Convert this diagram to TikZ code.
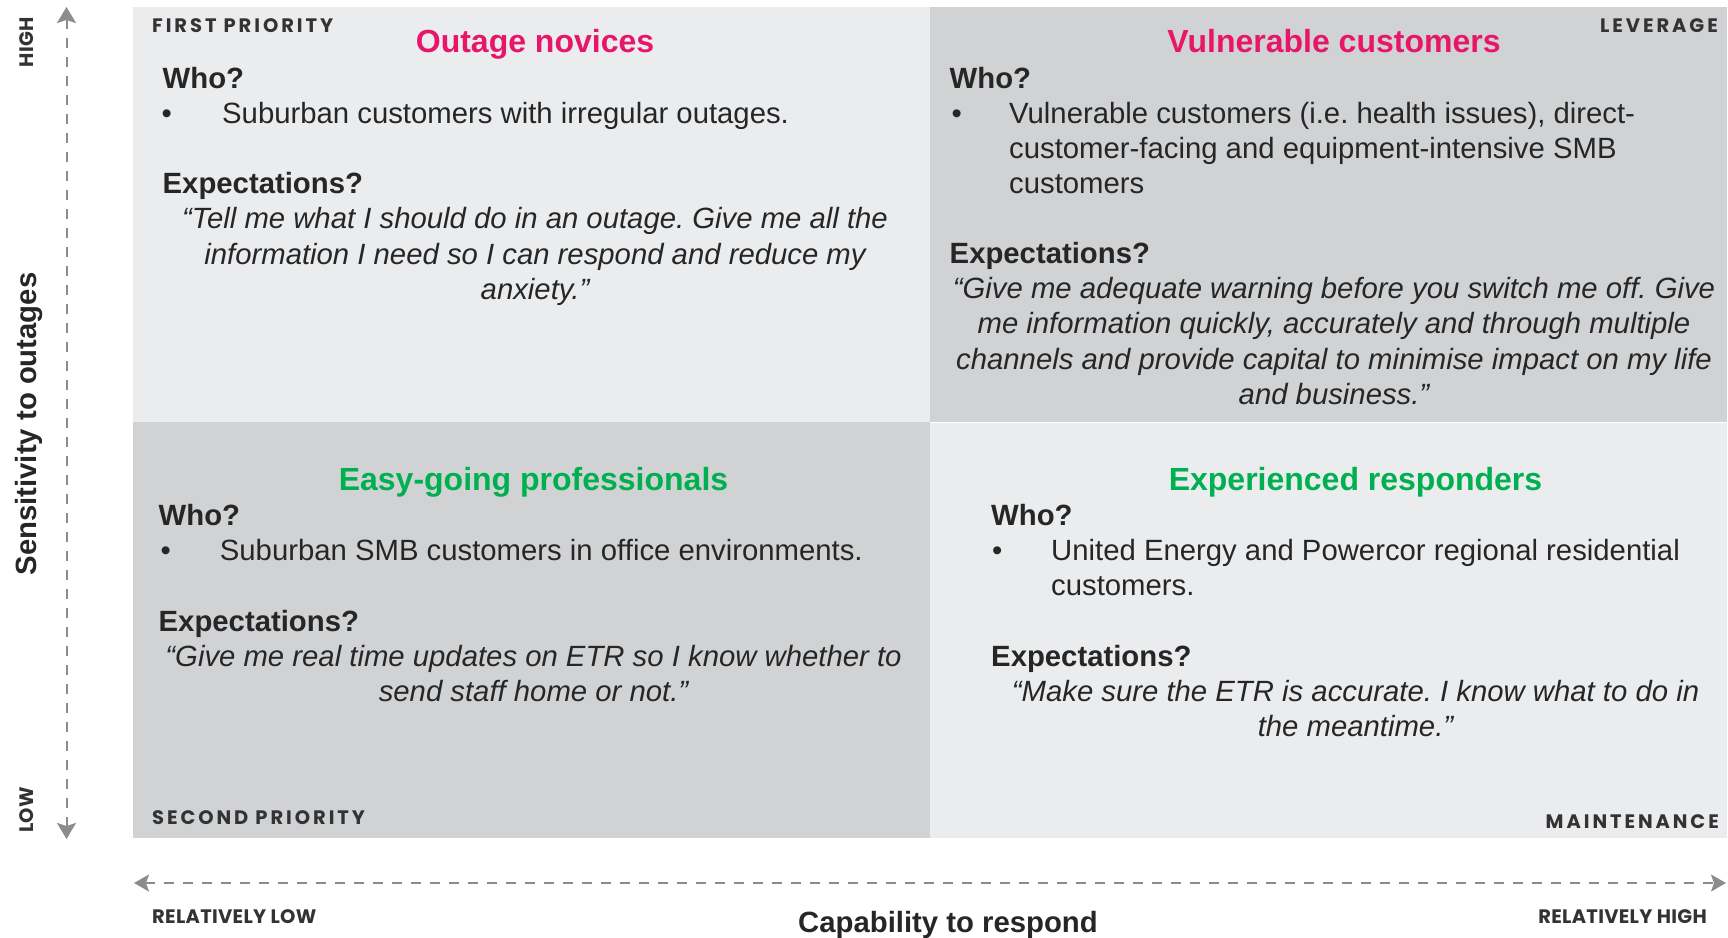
\documentclass[tikz,border=0pt]{standalone}
\usepackage{fontspec}
\setmainfont{Liberation Sans}
\newfontfamily\capfont[LetterSpace=15]{Poppins}
\newfontfamily\capfontb[LetterSpace=1.5]{Poppins}
\usetikzlibrary{arrows.meta}
\definecolor{qlight}{HTML}{EBECEE}
\definecolor{qdark}{HTML}{D1D2D4}
\definecolor{pinkt}{HTML}{E8166B}
\definecolor{greent}{HTML}{00B050}
\definecolor{txt}{HTML}{262626}
\definecolor{axgray}{HTML}{8C8C8C}
\definecolor{labtxt}{HTML}{333333}
\frenchspacing
\tikzset{
  body/.style={inner sep=0pt, text=txt, font=\fontsize{29.3pt}{35.3pt}\selectfont, anchor=base west},
  bodyb/.style={body, font=\fontsize{29.3pt}{35.3pt}\selectfont\bfseries},
  quoteline/.style={inner sep=0pt, text=txt, font=\fontsize{29.3pt}{35.3pt}\selectfont\itshape, anchor=base},
  ptitle/.style={inner sep=0pt, text=pinkt, font=\fontsize{32pt}{38pt}\selectfont\bfseries, anchor=base},
  gtitle/.style={ptitle, text=greent},
  corner/.style={inner sep=0pt, text=labtxt, font=\fontsize{19.5pt}{23pt}\selectfont\capfont\bfseries},
  scalelab/.style={inner sep=0pt, text=labtxt, font=\fontsize{19.5pt}{23pt}\selectfont\capfontb\bfseries},
  axtitle/.style={inner sep=0pt, text=txt, font=\fontsize{29.3pt}{35pt}\selectfont\bfseries, anchor=base},
  axisline/.style={draw=axgray, line width=2pt, dash pattern=on 10pt off 9pt},
}
\begin{document}
\begin{tikzpicture}[x=1pt,y=-1pt]
\fill[white] (0,0) rectangle (1728,937);
\useasboundingbox (0,0) rectangle (1728,937);
% quadrants
\fill[qlight] (133,7) rectangle (930,422);
\fill[qdark] (930,7) rectangle (1727,422);
\fill[qdark] (133,422) rectangle (930,838);
\fill[qlight] (930,422) rectangle (1727,838);
\draw[white, line width=1pt] (930,422) -- (1727,422);

% axes
\coordinate (vtop) at (66.5,7);
\coordinate (vbot) at (66.5,839);
\coordinate (hleft) at (134,883);
\coordinate (hright) at (1726,883);
\draw[axisline, arrows={Stealth[length=16pt,width=19pt,inset=3pt,fill=axgray]-Stealth[length=16pt,width=19pt,inset=3pt,fill=axgray]}] (vtop) -- (vbot);
\draw[axisline, arrows={Stealth[length=15pt,width=17pt,inset=3pt,fill=axgray]-Stealth[length=15pt,width=17pt,inset=3pt,fill=axgray]}] (hleft) -- (hright);

\node[scalelab, rotate=90, anchor=base] (high) at (33,42) {HIGH};
\node[scalelab, rotate=90, anchor=base] (low) at (33,810) {LOW};
\node[axtitle, rotate=90] (sens) at (36.5,424) {Sensitivity to outages};
\node[scalelab, anchor=base west] (rlow) at (152,923.3) {RELATIVELY LOW};
\node[scalelab, anchor=base east] (rhigh) at (1707,923.3) {RELATIVELY HIGH};
\node[axtitle] (capab) at (948,932) {Capability to respond};

% corner labels
\node[corner, anchor=base west] (first) at (152,32.5) {FIRST PRIORITY};
\node[corner, anchor=base east] (lev) at (1718,32) {LEVERAGE};
\node[corner, anchor=base west] (second) at (152,824) {SECOND PRIORITY};
\node[corner, anchor=base east] (maint) at (1719,828.5) {MAINTENANCE};

% TL
\node[ptitle] (t1) at (535,52.5) {Outage novices};
\node[bodyb] (w1) at (162.5,88.2) {Who?};
\node[body] (b1) at (161.5,123.3) {•};
\node[body] (b1a) at (222,123.3) {Suburban customers with irregular outages.};
\node[bodyb] (e1) at (162.5,193.7) {Expectations?};
\node[quoteline] (q1a) at (535,228.5) {“Tell me what I should do in an outage. Give me all the};
\node[quoteline] (q1b) at (535,264) {information I need so I can respond and reduce my};
\node[quoteline] (q1c) at (535,299) {anxiety.”};

% TR
\node[ptitle] (t2) at (1334,52.5) {Vulnerable customers};
\node[bodyb] (w2) at (949.5,88.2) {Who?};
\node[body] (b2) at (951.5,123.3) {•};
\node[body] (b2a) at (1009,123.3) {Vulnerable customers (i.e. health issues), direct-};
\node[body] (b2b) at (1009,158.6) {customer-facing and equipment-intensive SMB};
\node[body] (b2c) at (1009,193.9) {customers};
\node[bodyb] (e2) at (949.5,263.7) {Expectations?};
\node[quoteline] (q2a) at (1334,298.5) {“Give me adequate warning before you switch me off. Give};
\node[quoteline] (q2b) at (1334,333.8) {me information quickly, accurately and through multiple};
\node[quoteline] (q2c) at (1334,369) {channels and provide capital to minimise impact on my life};
\node[quoteline] (q2d) at (1334,404.3) {and business.”};

% BL
\node[gtitle] (t3) at (533.5,490) {Easy-going professionals};
\node[bodyb] (w3) at (158.5,525) {Who?};
\node[body] (b3) at (160.5,560.4) {•};
\node[body] (b3a) at (219.7,560.4) {Suburban SMB customers in office environments.};
\node[bodyb] (e3) at (158.5,631.5) {Expectations?};
\node[quoteline] (q3a) at (533.5,666.3) {“Give me real time updates on ETR so I know whether to};
\node[quoteline] (q3b) at (533.5,701.6) {send staff home or not.”};

% BR
\node[gtitle] (t4) at (1355.5,490) {Experienced responders};
\node[bodyb] (w4) at (991,525) {Who?};
\node[body] (b4) at (992,560.4) {•};
\node[body] (b4a) at (1051,560.4) {United Energy and Powercor regional residential};
\node[body] (b4b) at (1051,595.7) {customers.};
\node[bodyb] (e4) at (991,666.3) {Expectations?};
\node[quoteline] (q4a) at (1355.5,701.5) {“Make sure the ETR is accurate. I know what to do in};
\node[quoteline] (q4b) at (1355.5,736.8) {the meantime.”};
\end{tikzpicture}
\end{document}
